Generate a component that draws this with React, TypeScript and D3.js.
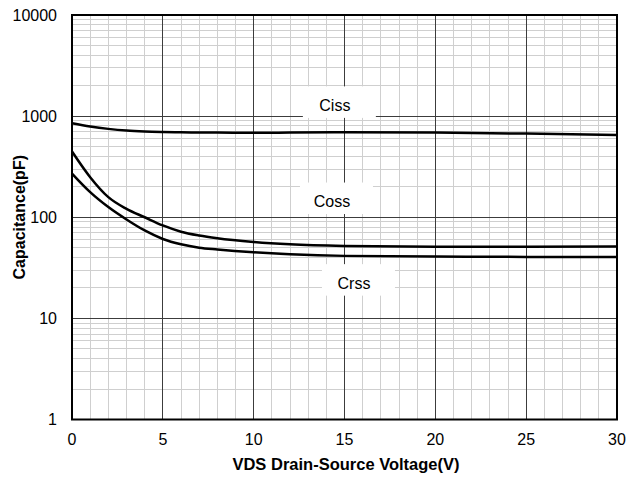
import React from "react";
import * as d3 from "d3";

const W = 628;
const H = 477;

const xTicks = [0, 5, 10, 15, 20, 25, 30];
const yTicks = [1, 10, 100, 1000, 10000];
const yTickLabels = ["1", "10", "100", "1000", "10000"];

const vds = [0, 1, 2, 3, 4, 5, 6, 7, 8, 10, 12, 15, 20, 25, 30];
const ciss = [850, 790, 748, 720, 705, 697, 692, 689, 687, 685, 688, 693, 688, 672, 650];
const coss = [447, 249, 158, 121, 100, 83, 72, 66, 62, 57, 54, 52, 51, 51, 51.5];
const crss = [270, 177, 126, 95, 74, 61, 54, 50, 48, 45, 43, 41.5, 41, 40.5, 40.5];

const labelNames = ["Ciss", "Coss", "Crss"];
const labelX = [14.47, 14.31, 15.52];
const labelY = [1277, 143, 22.3];

const xTitle = "VDS Drain-Source Voltage(V)";
const yTitle = "Capacitance(pF)";

export default function App() {
  const left = 72, right = 617, top = 15, bottom = 419.5;
  const x = d3.scaleLinear().domain([0, 30]).range([left, right]);
  const y = d3.scaleLog().domain([1, 10000]).range([bottom, top]);

  const minorX = d3.range(0, 31).filter((v) => v % 5 !== 0);
  const minorY: number[] = [];
  for (let d = 1; d < 10000; d *= 10) for (let k = 2; k <= 9; k++) minorY.push(d * k);

  const line = d3
    .line<[number, number]>()
    .x((d) => x(d[0]))
    .y((d) => y(d[1]))
    .curve(d3.curveMonotoneX);

  const series = [ciss, coss, crss];
  const font = "'Liberation Sans', Arial, sans-serif";

  return (
    <svg width={W} height={H} style={{ position: "absolute", left: 0, top: 0, background: "#fff" }}>
      <rect x={0} y={0} width={W} height={H} fill="#fff" />
      <g shapeRendering="crispEdges">
        {minorX.map((v) => (
          <line key={"mx" + v} x1={x(v)} x2={x(v)} y1={top} y2={bottom} stroke="#cfcfcf" strokeWidth={1} />
        ))}
        {minorY.map((v) => (
          <line key={"my" + v} x1={left} x2={right} y1={y(v)} y2={y(v)} stroke="#cfcfcf" strokeWidth={1} />
        ))}
        {xTicks.map((v) => (
          <line key={"Mx" + v} x1={x(v)} x2={x(v)} y1={top} y2={bottom} stroke="#3c3c3c" strokeWidth={1} />
        ))}
        {yTicks.map((v) => (
          <line key={"My" + v} x1={left} x2={right} y1={y(v)} y2={y(v)} stroke="#3c3c3c" strokeWidth={1} />
        ))}
      </g>
      {labelNames.map((n, i) => {
        const cx = x(labelX[i]);
        const cy = y(labelY[i]);
        return (
          <g key={n}>
            <rect x={cx - 32} y={cy - 19} width={73} height={31.5} fill="#fff" />
            <text x={cx} y={cy + 5.8} textAnchor="middle" fontFamily={font} fontSize={16} fill="#000">
              {n}
            </text>
          </g>
        );
      })}
      {series.map((s, i) => (
        <path
          key={"s" + i}
          d={line(vds.map((v, j) => [v, s[j]] as [number, number])) || ""}
          fill="none"
          stroke="#000"
          strokeWidth={2.5}
        />
      ))}
      <rect x={left} y={top} width={right - left} height={bottom - top} fill="none" stroke="#000" strokeWidth={2} />
      {yTicks.map((v, i) => (
        <text key={"yl" + v} x={57} y={y(v)} dy="0.35em" textAnchor="end" fontFamily={font} fontSize={16} fill="#000">
          {yTickLabels[i]}
        </text>
      ))}
      {xTicks.map((v) => (
        <text key={"xl" + v} x={x(v)} y={445} textAnchor="middle" fontFamily={font} fontSize={16} fill="#000">
          {v}
        </text>
      ))}
      <text x={346} y={470} textAnchor="middle" fontFamily={font} fontSize={16.5} fontWeight="bold" fill="#000">
        {xTitle}
      </text>
      <text
        transform={`translate(25,${(top + bottom) / 2}) rotate(-90)`}
        textAnchor="middle"
        fontFamily={font}
        fontSize={16}
        fontWeight="bold"
        fill="#000"
      >
        {yTitle}
      </text>
    </svg>
  );
}
